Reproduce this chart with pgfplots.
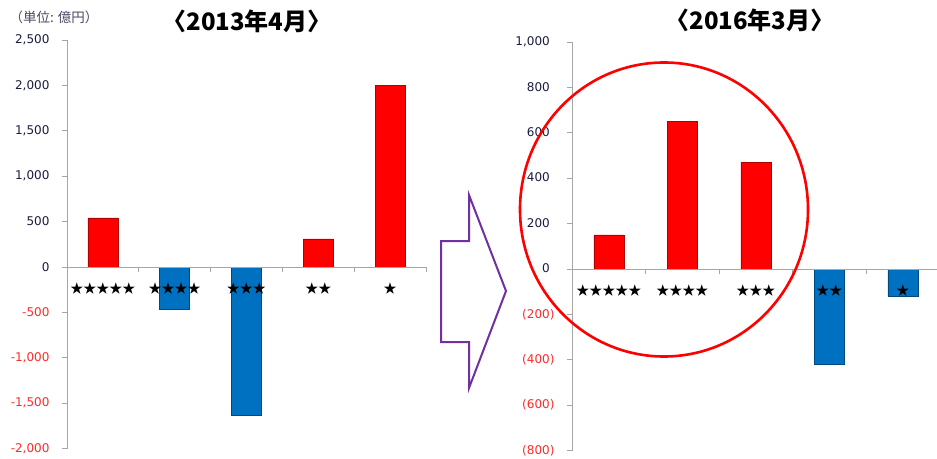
\documentclass[border=0pt]{standalone}
\usepackage{pgfplots}
\pgfplotsset{compat=1.18}
\usepackage{fontspec}
\setmainfont{DejaVu Sans}
\newfontfamily\cjk{Noto Sans CJK JP}

\definecolor{barred}{HTML}{FF0000}
\definecolor{barblue}{HTML}{0070C0}
\definecolor{tickdark}{HTML}{1A1C3C}
\definecolor{negred}{HTML}{FF2A2A}
\definecolor{axisgray}{HTML}{A6A6A6}
\definecolor{arrowpurple}{HTML}{7030A0}

\pgfplotsset{
  panel/.style={
    scale only axis,
    height=408.6pt,
    axis on top,
    axis y line=left, axis x line=middle,
    axis line style={-, draw=axisgray, line width=0.9pt},
    tick style={draw=axisgray, line width=0.9pt},
    major tick length=5pt, tick align=outside,
    xmin=-0.5, xmax=4.5,
    xtick={-0.5,0.5,1.5,2.5,3.5,4.5}, xticklabels={},
    extra x ticks={0,1,2,3,4},
    extra x tick labels={★★★★★,★★★★,★★★,★★,★},
    extra x tick style={tick style={draw=none},
      tick label style={font=\cjk\fontsize{13}{13}\selectfont, text=black, yshift=-7pt}},
    y tick label style={font=\fontsize{12}{12}\selectfont, text=tickdark, xshift=-9pt},
    clip=false,
  },
  redbar/.style={ybar, bar width=30pt, fill=barred, draw=barred!70!black, line width=0.4pt},
  bluebar/.style={ybar, bar width=30pt, fill=barblue, draw=barblue!65!black, line width=0.4pt},
}

\begin{document}
\begin{tikzpicture}
\path[use as bounding box] (0,0) rectangle (937pt,-458pt);

% 2013年4月
\begin{axis}[panel,
  at={(67pt,-448.6pt)}, anchor=south west,
  width=359pt,
  ymin=-2000, ymax=2500,
  ytick={-2000,-1500,-1000,-500,0,500,1000,1500,2000,2500},
  yticklabels={{\color{negred}-2,000},{\color{negred}-1,500},{\color{negred}-1,000},{\color{negred}-500},
    0,500,{1,000},{1,500},{2,000},{2,500}},
]
\addplot[redbar] coordinates {(0,540) (3,310) (4,2000)};
\addplot[bluebar] coordinates {(1,-470) (2,-1630)};
\end{axis}

% 2016年3月
\begin{axis}[panel,
  at={(572pt,-450.6pt)}, anchor=south west,
  width=367.5pt,
  ymin=-800, ymax=1000,
  ytick={-800,-600,-400,-200,0,200,400,600,800,1000},
  yticklabels={{\color{negred}(800)},{\color{negred}(600)},{\color{negred}(400)},{\color{negred}(200)},
    0\phantom{)},200\phantom{)},400\phantom{)},600\phantom{)},800\phantom{)},{1,000\phantom{)}}},
]
\addplot[redbar] coordinates {(0,150) (1,650) (2,470)};
\addplot[bluebar] coordinates {(3,-420) (4,-120)};
\end{axis}

\node[font=\cjk\fontsize{13.5}{14}\selectfont, text=tickdark!80, inner sep=0] at (54pt,-17pt) {（単位: 億円）};
\node[font=\cjk\bfseries\fontsize{24}{26}\selectfont, inner sep=0] at (247pt,-21pt) {〈2013年4月〉};
\node[font=\cjk\bfseries\fontsize{24}{26}\selectfont, inner sep=0] at (750pt,-20pt) {〈2016年3月〉};

\draw[barred, line width=2.6pt] (664pt,-209.5pt) ellipse (144pt and 147pt);
\draw[arrowpurple, line width=2pt, line join=miter]
  (441pt,-241pt) -- (469pt,-241pt) -- (469pt,-195pt) -- (506pt,-291pt)
  -- (469pt,-388pt) -- (469pt,-342pt) -- (441pt,-342pt) -- cycle;
\end{tikzpicture}
\end{document}
